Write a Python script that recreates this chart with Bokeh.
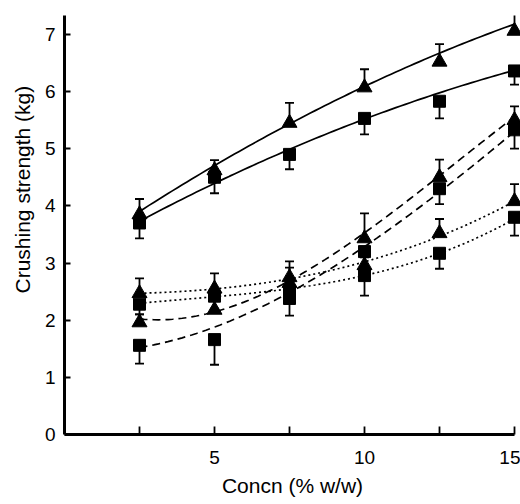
import numpy as np
from bokeh.plotting import figure
from bokeh.models import Range1d, FixedTicker, Whisker, TeeHead, ColumnDataSource, Title
from bokeh.embed import file_html
from bokeh.resources import INLINE

conc = [2.5, 5, 7.5, 10, 12.5, 15]

# solid series
tri_solid = [3.85, 4.62, 5.45, 6.07, 6.52, 7.06]
tri_solid_err = [4.12, 4.80, 5.80, 6.39, 6.83, 7.42]
tri_solid_fit = [3.93, 4.66, 5.42, 6.12, 6.69, 7.16]
sq_solid = [3.70, 4.50, 4.90, 5.53, 5.83, 6.36]
sq_solid_err = [3.43, 4.22, 4.64, 5.25, 5.53, 6.12]
sq_solid_fit = [3.73, 4.41, 4.96, 5.52, 6.00, 6.36]

# dashed series
tri_dash = [1.96, 2.18, 2.65, 3.43, 4.50, 5.50]
tri_dash_err = [2.10, 2.40, 3.03, 3.87, 4.81, 5.74]
tri_dash_fit = [2.02, 2.15, 2.70, 3.50, 4.55, 5.55]
sq_dash = [1.56, 1.66, 2.38, 3.20, 4.30, 5.33]
sq_dash_err = [1.24, 1.22, 2.08, 2.90, 4.03, 5.00]
sq_dash_fit = [1.52, 1.88, 2.48, 3.29, 4.24, 5.30]

# dotted series
tri_dot = [2.47, 2.55, 2.75, 2.96, 3.52, 4.08]
tri_dot_err = [2.73, 2.82, 2.92, 3.10, 3.77, 4.38]
tri_dot_fit = [2.47, 2.55, 2.72, 3.02, 3.47, 4.08]
sq_dot = [2.28, 2.42, 2.50, 2.78, 3.17, 3.80]
sq_dot_err = [2.10, 2.20, 2.30, 2.43, 2.90, 3.48]
sq_dot_fit = [2.30, 2.40, 2.55, 2.80, 3.15, 3.78]

x_ticks = [5, 10, 15]
x_minor = [2.5, 7.5, 12.5]
y_ticks = [0, 1, 2, 3, 4, 5, 6, 7]
x_title = "Concn (% w/w)"
y_title = "Crushing strength (kg)"

FONT = "Liberation Sans"

p = figure(width=520, height=504, output_backend="svg", toolbar_location=None,
           x_range=Range1d(0, 15.2), y_range=Range1d(0, 7.33),
           min_border_left=62, min_border_right=0, min_border_top=15, min_border_bottom=70)
p.xgrid.visible = False
p.ygrid.visible = False
p.outline_line_color = None
p.background_fill_color = "white"

xs = np.linspace(2.5, 15, 80)

def curve(fit, dash, deg):
    c = np.polyfit(conc, fit, deg)
    p.line(xs, np.polyval(c, xs), line_color="black", line_width=1.7, line_dash=dash)

curve(tri_solid_fit, "solid", 2)
curve(sq_solid_fit, "solid", 2)
curve(tri_dash_fit, "8 5", 3)
curve(sq_dash_fit, "8 5", 3)
curve(tri_dot_fit, "2 3", 3)
curve(sq_dot_fit, "2 3", 3)

def errors(y, err, up):
    src = ColumnDataSource(dict(x=conc, y=y, e=err))
    if up:
        w = Whisker(source=src, base="x", lower="y", upper="e",
                    upper_head=TeeHead(size=9, line_width=1.8), lower_head=None,
                    line_width=1.8, line_color="black")
    else:
        w = Whisker(source=src, base="x", upper="y", lower="e",
                    lower_head=TeeHead(size=9, line_width=1.8), upper_head=None,
                    line_width=1.8, line_color="black")
    p.add_layout(w)

for y, e in [(tri_solid, tri_solid_err), (tri_dash, tri_dash_err), (tri_dot, tri_dot_err)]:
    errors(y, e, True)
for y, e in [(sq_solid, sq_solid_err), (sq_dash, sq_dash_err), (sq_dot, sq_dot_err)]:
    errors(y, e, False)

for y in [tri_solid, tri_dash, tri_dot]:
    p.scatter(conc, y, marker="triangle", size=15, fill_color="black", line_color="black")
for y in [sq_solid, sq_dash, sq_dot]:
    p.scatter(conc, y, marker="square", size=12, fill_color="black", line_color="black")

xa = p.xaxis[0]
xa.ticker = FixedTicker(ticks=x_ticks, minor_ticks=x_minor)
xa.bounds = (0, 15)
xa.axis_label = x_title

ya = p.yaxis[0]
ya.ticker = FixedTicker(ticks=y_ticks)

for ax in (xa, ya):
    ax.axis_line_width = 3
    ax.axis_line_color = "black"
    ax.major_tick_out = 0
    ax.minor_tick_out = 0
    ax.major_tick_line_width = 1.8
    ax.minor_tick_line_width = 1.8
    ax.major_tick_line_color = "black"
    ax.minor_tick_line_color = "black"
    ax.major_label_text_font = FONT
    ax.major_label_text_font_size = "19px"
    ax.major_label_text_color = "black"
    ax.axis_label_text_font = FONT
    ax.axis_label_text_font_size = "21px"
    ax.axis_label_text_font_style = "normal"
    ax.axis_label_text_color = "black"

xa.major_tick_in = 8
xa.minor_tick_in = 8
xa.major_label_standoff = 16
xa.axis_label_standoff = 7
ya.major_tick_in = 6
ya.minor_tick_in = 0
ya.major_label_standoff = 9

# y title sits above the centre of the axis in the reference
yt = Title(text=y_title, align="left", offset=141, standoff=16,
           text_font=FONT, text_font_size="21px", text_font_style="normal",
           text_color="black")
p.add_layout(yt, "left")

open("out.html", "w").write(file_html(p, INLINE))
